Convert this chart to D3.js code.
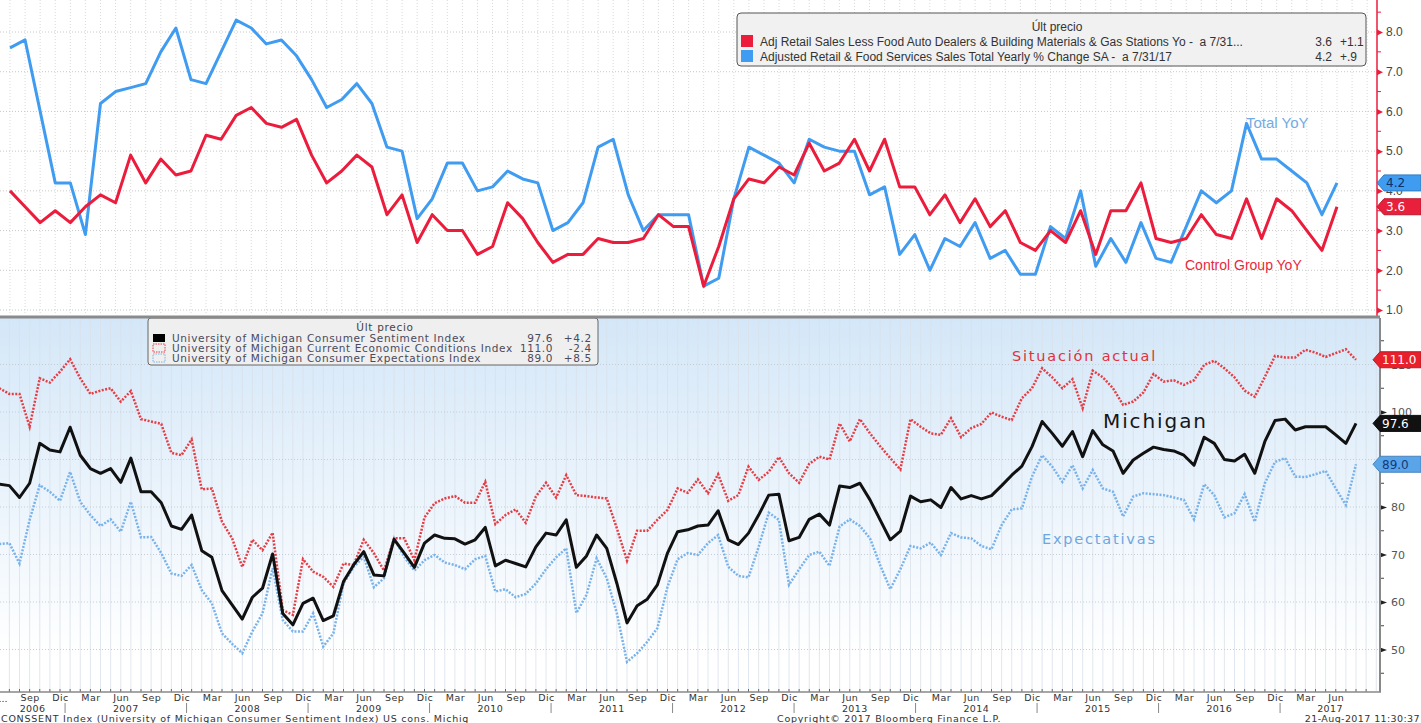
<!DOCTYPE html>
<html>
<head>
<meta charset="utf-8">
<script src="https://cdn.jsdelivr.net/npm/d3@7"></script>
<style>
  body { margin: 0; background: #fff; }
  svg { display: block; }
</style>
</head>
<body>
<div id="chart"></div>
<script>
// top panel: retail sales YoY, monthly, Mar 2010 .. Jul 2017
var retailStart = new Date(2010, 2, 1);
var totalYoY = [7.6, 7.8, 6.0, 4.2, 4.2, 2.9, 6.2, 6.5, 6.6, 6.7,
  7.5, 8.1, 6.8, 6.7, 7.5, 8.3, 8.1, 7.7, 7.8, 7.4,
  6.8, 6.1, 6.3, 6.7, 6.2, 5.1, 5.0, 3.3, 3.8, 4.7,
  4.7, 4.0, 4.1, 4.5, 4.3, 4.2, 3.0, 3.2, 3.7, 5.1,
  5.3, 3.9, 3.0, 3.4, 3.4, 3.4, 1.6, 1.8, 3.8, 5.1,
  4.9, 4.7, 4.2, 5.3, 5.1, 5.0, 5.0, 3.9, 4.1, 2.4,
  2.9, 2.0, 2.8, 2.6, 3.2, 2.3, 2.5, 1.9, 1.9, 3.1,
  2.8, 4.0, 2.1, 2.8, 2.2, 3.2, 2.3, 2.2, 3.1, 4.0,
  3.7, 4.0, 5.7, 4.8, 4.8, 4.5, 4.2, 3.4, 4.2];
var controlYoY = [4.0, 3.6, 3.2, 3.5, 3.2, 3.6, 3.9, 3.7, 4.9, 4.2,
  4.8, 4.4, 4.5, 5.4, 5.3, 5.9, 6.1, 5.7, 5.6, 5.8,
  4.9, 4.2, 4.5, 4.9, 4.6, 3.4, 3.9, 2.7, 3.4, 3.0,
  3.0, 2.4, 2.6, 3.7, 3.3, 2.7, 2.2, 2.4, 2.4, 2.8,
  2.7, 2.7, 2.8, 3.4, 3.1, 3.1, 1.6, 2.6, 3.8, 4.3,
  4.2, 4.6, 4.4, 5.2, 4.5, 4.7, 5.3, 4.5, 5.3, 4.1,
  4.1, 3.4, 3.9, 3.2, 3.8, 3.1, 3.5, 2.7, 2.5, 3.0,
  2.7, 3.5, 2.4, 3.5, 3.5, 4.2, 2.8, 2.7, 2.8, 3.4,
  2.9, 2.8, 3.8, 2.8, 3.8, 3.5, 3.0, 2.5, 3.6];

// bottom panel: University of Michigan, monthly, Jun 2006 .. Aug 2017
var michStart = new Date(2006, 5, 1);
var sentiment = [84.8, 84.5, 82.0, 85.0, 93.4, 92.0, 91.6, 96.8, 90.9, 88.1,
  87.1, 88.1, 85.2, 90.3, 83.2, 83.2, 80.9, 76.0, 75.3, 78.3,
  70.8, 69.4, 62.4, 59.4, 56.4, 61.0, 62.9, 70.1, 57.6, 55.2,
  59.7, 60.8, 56.1, 57.1, 64.3, 67.8, 70.6, 65.7, 65.5, 73.2,
  70.3, 67.3, 72.4, 74.1, 73.4, 73.3, 72.2, 73.1, 75.7, 67.6,
  68.8, 68.1, 67.4, 71.6, 74.5, 74.1, 77.3, 67.3, 69.7, 74.1,
  71.3, 63.9, 55.6, 59.2, 60.6, 63.6, 70.3, 74.8, 75.2, 76.0,
  76.2, 79.2, 73.1, 72.1, 74.5, 78.3, 82.5, 82.7, 72.9, 73.6,
  77.4, 78.5, 76.2, 84.4, 84.1, 85.0, 81.5, 77.3, 73.1, 74.9,
  82.3, 81.1, 81.5, 79.9, 84.1, 81.7, 82.4, 81.7, 82.4, 84.5,
  86.7, 88.6, 92.7, 98.0, 95.5, 92.8, 95.9, 90.6, 96.1, 93.1,
  91.8, 87.1, 89.9, 91.3, 92.6, 92.1, 91.8, 90.9, 88.8, 94.7,
  93.4, 90.0, 89.7, 91.1, 87.1, 93.8, 98.2, 98.5, 96.2, 96.9,
  96.9, 96.9, 95.2, 93.4, 97.6];
var currentCond = [105.0, 103.8, 103.8, 96.9, 107.1, 106.2, 108.5, 111.1, 107.1, 103.8,
  104.5, 105.0, 102.2, 104.4, 98.5, 98.0, 97.5, 91.4, 90.9, 94.2,
  83.7, 83.9, 76.9, 73.4, 67.4, 73.1, 70.9, 74.6, 58.3, 57.3,
  69.0, 66.4, 65.3, 63.2, 68.1, 67.8, 73.1, 70.3, 66.6, 73.4,
  73.4, 68.8, 77.8, 80.8, 81.8, 82.3, 80.9, 80.9, 85.3, 76.4,
  78.3, 79.5, 76.7, 82.2, 85.1, 82.0, 86.7, 82.5, 82.3, 82.0,
  81.8, 75.5, 68.7, 75.0, 75.0, 77.3, 79.4, 83.9, 83.0, 85.8,
  82.9, 86.9, 81.3, 82.5, 88.5, 85.7, 87.4, 90.5, 87.1, 85.1,
  89.1, 90.6, 90.0, 97.6, 93.8, 98.5, 95.5, 92.8, 90.3, 87.9,
  98.5, 96.9, 95.5, 95.2, 98.7, 94.7, 96.6, 97.5, 99.9, 99.0,
  98.3, 102.9, 105.0, 109.2, 107.3, 105.0, 106.9, 100.8, 108.7, 107.3,
  105.0, 101.5, 102.2, 104.1, 108.0, 106.4, 106.7, 105.7, 106.7, 109.9,
  110.8, 109.2, 107.3, 104.5, 103.2, 107.4, 111.8, 111.5, 111.5, 113.1,
  112.5, 111.6, 112.4, 113.2, 111.0];
var expectations = [72.2, 72.4, 68.1, 77.3, 84.6, 83.2, 81.3, 87.4, 81.1, 78.3,
  76.0, 77.4, 74.8, 81.1, 73.6, 73.7, 70.3, 66.0, 65.5, 67.8,
  62.5, 59.7, 53.4, 51.2, 49.2, 53.8, 57.6, 67.1, 56.2, 53.8,
  53.8, 57.6, 50.6, 53.4, 63.9, 67.4, 69.5, 63.1, 65.0, 73.4,
  69.5, 66.6, 68.8, 69.9, 68.3, 67.8, 66.9, 69.0, 69.7, 62.2,
  62.7, 61.0, 61.7, 63.9, 66.9, 69.4, 71.3, 57.7, 61.5, 69.2,
  65.0, 57.6, 47.4, 49.2, 51.6, 54.5, 63.2, 69.0, 70.3, 69.9,
  72.4, 74.1, 67.4, 65.5, 65.2, 71.6, 78.8, 77.3, 63.6, 66.9,
  69.9, 70.6, 67.6, 75.9, 77.4, 76.0, 73.4, 67.8, 62.7, 66.9,
  71.8, 71.3, 72.5, 69.9, 74.5, 73.6, 73.4, 71.8, 71.1, 76.2,
  79.5, 79.7, 86.4, 90.9, 88.5, 85.3, 88.8, 83.9, 87.8, 83.9,
  83.2, 78.0, 82.2, 82.9, 82.7, 82.5, 82.0, 81.5, 77.4, 84.8,
  82.5, 77.8, 78.7, 82.7, 76.9, 85.0, 89.5, 90.3, 86.4, 86.3,
  86.9, 87.6, 83.9, 80.4, 89.0];

var monthNames = ['Ene', 'Feb', 'Mar', 'Abr', 'May', 'Jun', 'Jul', 'Ago', 'Sep', 'Oct', 'Nov', 'Dic'];
var topTicks = [1, 2, 3, 4, 5, 6, 7, 8];
var bottomTicks = [50, 60, 70, 80, 90, 100, 110];

var topLegend = [
  ['Adj Retail Sales Less Food Auto Dealers & Building Materials & Gas Stations Yo -  a 7/31...', '3.6', '+1.1'],
  ['Adjusted Retail & Food Services Sales Total Yearly % Change SA -  a 7/31/17', '4.2', '+.9']
];
var bottomLegend = [
  ['University of Michigan Consumer Sentiment Index', '97.6', '+4.2'],
  ['University of Michigan Current Economic Conditions Index', '111.0', '-2.4'],
  ['University of Michigan Consumer Expectations Index', '89.0', '+8.5']
];

var BLUE = '#3f9cf0', RED = '#eb1c3c';
var DOT_RED = '#e63c44', DOT_BLUE = '#78b2ea';
var SANS = 'DejaVu Sans, Verdana, sans-serif';
var ARIAL = 'Liberation Sans, Arial, sans-serif';

var svg = d3.select('#chart').append('svg')
  .attr('width', 1421)
  .attr('height', 723);

var xTop = d3.scaleLinear().domain([0, totalYoY.length - 1]).range([10, 1337]);
var yTop = d3.scaleLinear().domain([1, 8]).range([310, 32]);
var xBot = d3.scaleLinear().domain([0, sentiment.length - 1]).range([-0.75, 1356]);
var yBot = d3.scaleLinear().domain([50, 110]).range([649.5, 364.5]);

function monthOf (start, i) {
  return d3.timeMonth.offset(start, i);
}

_drawTopPanel();
_drawBottomPanel();
_drawBottomAxis();

function _tag (x, y, label, fill, color) {
  var g = svg.append('g');
  g.append('path')
    .attr('d', 'M' + x + ',' + y + 'L' + (x + 7) + ',' + (y - 8) + 'L1421,' + (y - 8) +
      'L1421,' + (y + 8) + 'L' + (x + 7) + ',' + (y + 8) + 'Z')
    .style('fill', fill)
    .style('stroke', d3.color(fill).darker(0.6));
  g.append('text')
    .attr('x', x + 9)
    .attr('y', y + 4.5)
    .style('font-family', SANS)
    .style('font-size', '12px')
    .style('fill', color)
    .text(label);
}

function _drawTopPanel () {
  var g = svg.append('g');

  g.selectAll('.vgrid')
    .data(d3.range(-1, totalYoY.length + 2))
    .enter()
    .append('line')
    .attr('x1', function (d) { return xTop(d); })
    .attr('x2', function (d) { return xTop(d); })
    .attr('y1', 0)
    .attr('y2', 314)
    .style('stroke', '#d9d9d9')
    .style('stroke-dasharray', '1,2');

  g.selectAll('.hgrid')
    .data(topTicks)
    .enter()
    .append('line')
    .attr('x1', 0)
    .attr('x2', 1377)
    .attr('y1', function (d) { return yTop(d); })
    .attr('y2', function (d) { return yTop(d); })
    .style('stroke', '#c8c8c8')
    .style('stroke-dasharray', '1,2');

  var line = d3.line()
    .x(function (d, i) { return xTop(i); })
    .y(function (d) { return yTop(d); });

  g.append('path').datum(totalYoY)
    .attr('d', line)
    .style('fill', 'none').style('stroke', BLUE).style('stroke-width', 3)
    .style('stroke-linejoin', 'round');
  g.append('path').datum(controlYoY)
    .attr('d', line)
    .style('fill', 'none').style('stroke', RED).style('stroke-width', 3)
    .style('stroke-linejoin', 'round');

  g.append('text').attr('x', 1246).attr('y', 128)
    .style('font-family', ARIAL).style('font-size', '15px').style('fill', '#72ace4')
    .text('Total YoY');
  g.append('text').attr('x', 1185).attr('y', 270)
    .style('font-family', ARIAL).style('font-size', '14px').style('fill', '#e8283c')
    .text('Control Group YoY');

  // legend
  var lg = g.append('g');
  lg.append('rect').attr('x', 737).attr('y', 13).attr('width', 629).attr('height', 53)
    .attr('rx', 4).style('fill', '#f1f1f1').style('stroke', '#555');
  lg.append('text').attr('x', 1057).attr('y', 31).attr('text-anchor', 'middle')
    .style('font-family', ARIAL).style('font-size', '12px').style('fill', '#333')
    .text('Últ precio');
  var rows = lg.selectAll('.row').data(topLegend).enter().append('g')
    .attr('transform', function (d, i) { return 'translate(0,' + (41 + i * 15) + ')'; });
  rows.append('rect').attr('x', 741).attr('y', -6).attr('width', 12).attr('height', 12)
    .style('fill', function (d, i) { return i === 0 ? RED : BLUE; });
  rows.append('text').attr('x', 760).attr('y', 4.5)
    .style('font-family', ARIAL).style('font-size', '12px').style('fill', '#333')
    .style('white-space', 'pre')
    .text(function (d) { return d[0]; });
  rows.append('text').attr('x', 1332).attr('y', 4.5).attr('text-anchor', 'end')
    .style('font-family', ARIAL).style('font-size', '12px').style('fill', '#333')
    .text(function (d) { return d[1]; });
  rows.append('text').attr('x', 1340).attr('y', 4.5)
    .style('font-family', ARIAL).style('font-size', '12px').style('fill', '#333')
    .text(function (d) { return d[2]; });

  // right axis (red)
  var ax = svg.append('g').attr('transform', 'translate(1377,0)')
    .call(d3.axisRight(yTop).tickValues(topTicks).tickFormat(d3.format('.1f')).tickSize(0).tickPadding(9));
  ax.select('.domain').remove();
  ax.selectAll('text').style('font-family', ARIAL).style('font-size', '12px').style('fill', '#444');
  ax.selectAll('.tick').append('path').attr('d', 'M0,-3L6,0L0,3Z').style('fill', RED);
  ax.selectAll('.minor').data(d3.range(1.5, 9, 1)).enter().append('line')
    .attr('x1', 0).attr('x2', 4)
    .attr('y1', function (d) { return yTop(d); })
    .attr('y2', function (d) { return yTop(d); })
    .style('stroke', RED);
  ax.append('line').attr('x1', 0).attr('x2', 0).attr('y1', 0).attr('y2', 316)
    .style('stroke', RED).style('stroke-width', 1.5);

  _tag(1377, yTop(4.2), '4.2', '#3f9cf0', '#10306a');
  _tag(1377, yTop(3.6), '3.6', '#e8203c', '#fff');
}

function _drawBottomPanel () {
  var defs = svg.append('defs');
  var grad = defs.append('linearGradient').attr('id', 'bg')
    .attr('x1', 0).attr('y1', 0).attr('x2', 0).attr('y2', 1);
  grad.append('stop').attr('offset', '0%').attr('stop-color', '#d4e7f8');
  grad.append('stop').attr('offset', '90%').attr('stop-color', '#ffffff');

  var g = svg.append('g');
  g.append('rect').attr('x', 0).attr('y', 318).attr('width', 1380).attr('height', 374)
    .style('fill', 'url(#bg)');

  g.selectAll('.vgrid')
    .data(d3.range(0, sentiment.length + 2))
    .enter()
    .append('line')
    .attr('x1', function (d) { return xBot(d); })
    .attr('x2', function (d) { return xBot(d); })
    .attr('y1', 319)
    .attr('y2', 691)
    .style('stroke', '#d9e1ea')
    .style('stroke-width', 0.8);

  g.selectAll('.hgrid')
    .data(bottomTicks)
    .enter()
    .append('line')
    .attr('x1', 0)
    .attr('x2', 1380)
    .attr('y1', function (d) { return yBot(d); })
    .attr('y2', function (d) { return yBot(d); })
    .style('stroke', '#c4ccd4')
    .style('stroke-dasharray', '1,2');

  var line = d3.line()
    .x(function (d, i) { return xBot(i); })
    .y(function (d) { return yBot(d); });

  g.append('path').datum(expectations).attr('d', line)
    .style('fill', 'none').style('stroke', DOT_BLUE).style('stroke-width', 2.5)
    .style('stroke-dasharray', '2,1.5');
  g.append('path').datum(currentCond).attr('d', line)
    .style('fill', 'none').style('stroke', DOT_RED).style('stroke-width', 2.5)
    .style('stroke-dasharray', '2,1.5');
  g.append('path').datum(sentiment).attr('d', line)
    .style('fill', 'none').style('stroke', '#111').style('stroke-width', 3)
    .style('stroke-linejoin', 'round');

  g.append('text').attr('x', 1012).attr('y', 361)
    .style('font-family', SANS).style('font-size', '14.5px').style('fill', '#e0323c')
    .style('letter-spacing', '1.8px')
    .text('Situación actual');
  g.append('text').attr('x', 1103).attr('y', 428)
    .style('font-family', SANS).style('font-size', '20px').style('fill', '#161616')
    .style('letter-spacing', '1.9px')
    .text('Michigan');
  g.append('text').attr('x', 1042).attr('y', 544)
    .style('font-family', SANS).style('font-size', '14.5px').style('fill', '#6ea6e0')
    .style('letter-spacing', '1.8px')
    .text('Expectativas');

  // panel separator
  svg.append('line').attr('x1', 0).attr('x2', 1380).attr('y1', 317).attr('y2', 317)
    .style('stroke', '#8a8a8a').style('stroke-width', 3);

  // legend
  var lg = g.append('g');
  lg.append('rect').attr('x', 148).attr('y', 318).attr('width', 450).attr('height', 47)
    .attr('rx', 3).style('fill', '#efefef').style('stroke', '#666');
  lg.append('text').attr('x', 385).attr('y', 331).attr('text-anchor', 'middle')
    .style('font-family', SANS).style('font-size', '10.5px').style('fill', '#444')
    .style('letter-spacing', '0.7px')
    .text('Últ precio');
  var rows = lg.selectAll('.row').data(bottomLegend).enter().append('g')
    .attr('transform', function (d, i) { return 'translate(0,' + (338 + i * 10) + ')'; });
  rows.append('rect').attr('x', 153).attr('y', -4).attr('width', 12).attr('height', 8)
    .style('fill', function (d, i) { return i === 0 ? '#000' : 'none'; })
    .style('stroke', function (d, i) { return [null, DOT_RED, DOT_BLUE][i]; })
    .style('stroke-dasharray', '1.5,1');
  rows.append('text').attr('x', 172).attr('y', 3.8)
    .style('font-family', SANS).style('font-size', '10.5px').style('fill', '#4a4a5c')
    .style('letter-spacing', '0.64px')
    .text(function (d) { return d[0]; });
  rows.append('text').attr('x', 553).attr('y', 3.8).attr('text-anchor', 'end')
    .style('font-family', SANS).style('font-size', '10.5px').style('fill', '#4a4a5c')
    .style('letter-spacing', '0.6px')
    .text(function (d) { return d[1]; });
  rows.append('text').attr('x', 592).attr('y', 3.8).attr('text-anchor', 'end')
    .style('font-family', SANS).style('font-size', '10.5px').style('fill', '#4a4a5c')
    .style('letter-spacing', '0.7px')
    .text(function (d) { return d[2]; });

  // right axis; the 90 label sits under the 89.0 tag, as in the source
  var ax = svg.append('g').attr('transform', 'translate(1380,0)')
    .call(d3.axisRight(yBot).tickValues(bottomTicks).tickSize(0).tickPadding(11)
      .tickFormat(function (d) { return d === 90 ? '' : d; }));
  ax.select('.domain').remove();
  ax.selectAll('text').style('font-family', SANS).style('font-size', '11px').style('fill', '#555');
  ax.selectAll('.tick').append('path').attr('d', 'M0,-2.5L7,0L0,2.5Z').style('fill', '#222');
  ax.selectAll('.minor').data(d3.range(45, 120, 10)).enter().append('line')
    .attr('x1', 0).attr('x2', 4)
    .attr('y1', function (d) { return yBot(d); })
    .attr('y2', function (d) { return yBot(d); })
    .style('stroke', '#444');
  ax.append('line').attr('x1', 0).attr('x2', 0).attr('y1', 318).attr('y2', 692)
    .style('stroke', '#888').style('stroke-width', 2);

  _tag(1373, yBot(111.0), '111.0', '#e8202c', '#fff');
  _tag(1373, yBot(97.6), '97.6', '#111', '#fff');
  _tag(1373, yBot(89.0), '89.0', '#5aa4ea', '#143a7a');
}

function _drawBottomAxis () {
  var g = svg.append('g').attr('transform', 'translate(0,692)');
  var idx = d3.range(sentiment.length);
  var quarters = idx.filter(function (i) { return i > 0 && monthOf(michStart, i).getMonth() % 3 === 2; });

  g.call(d3.axisBottom(xBot).tickValues(quarters).tickSize(0).tickPadding(2)
    .tickFormat(function (i) { return monthNames[monthOf(michStart, i).getMonth()]; }));
  g.select('.domain').remove();
  g.selectAll('text').style('font-family', SANS).style('font-size', '9.5px').style('fill', '#333')
    .style('letter-spacing', '0.4px');
  g.append('text').attr('x', 3).attr('y', 10)
    .style('font-family', SANS).style('font-size', '9.5px').style('fill', '#333')
    .text('...');

  g.selectAll('.mtick').data(idx.concat([sentiment.length])).enter().append('line')
    .attr('x1', function (d) { return xBot(d); })
    .attr('x2', function (d) { return xBot(d); })
    .attr('y1', -3).attr('y2', 0)
    .style('stroke', '#666');
  g.append('line').attr('x1', 0).attr('x2', 1381).attr('y1', 0).attr('y2', 0)
    .style('stroke', '#888').style('stroke-width', 1.5);

  // years
  var half = (xBot(1) - xBot(0)) / 2;
  var years = d3.range(2006, 2018);
  years.forEach(function (yr) {
    var i0 = d3.timeMonth.count(michStart, new Date(yr, 0, 1));
    var i1 = d3.timeMonth.count(michStart, new Date(yr + 1, 0, 1));
    var a = Math.max(0, xBot(i0) - half);
    var b = Math.min(1380, xBot(i1) - half);
    g.append('text').attr('x', (a + b) / 2).attr('y', 20).attr('text-anchor', 'middle')
      .style('font-family', SANS).style('font-size', '9.5px').style('fill', '#333')
      .style('letter-spacing', '0.4px')
      .text(yr);
    if (b < 1380) {
      g.append('line').attr('x1', b).attr('x2', b).attr('y1', 11).attr('y2', 21)
        .style('stroke', '#888');
    }
  });

  var foot = svg.append('g').style('font-family', SANS).style('font-size', '9.5px')
    .style('fill', '#333').style('letter-spacing', '0.75px');
  foot.append('text').attr('x', 1).attr('y', 722)
    .text('CONSSENT Index (University of Michigan Consumer Sentiment Index) US cons. Michig');
  foot.append('text').attr('x', 777).attr('y', 722)
    .text('Copyright© 2017 Bloomberg Finance L.P.');
  foot.append('text').attr('x', 1420).attr('y', 722).attr('text-anchor', 'end')
    .style('letter-spacing', '0.4px')
    .text('21-Aug-2017 11:30:37');
}
</script>
</body>
</html>
